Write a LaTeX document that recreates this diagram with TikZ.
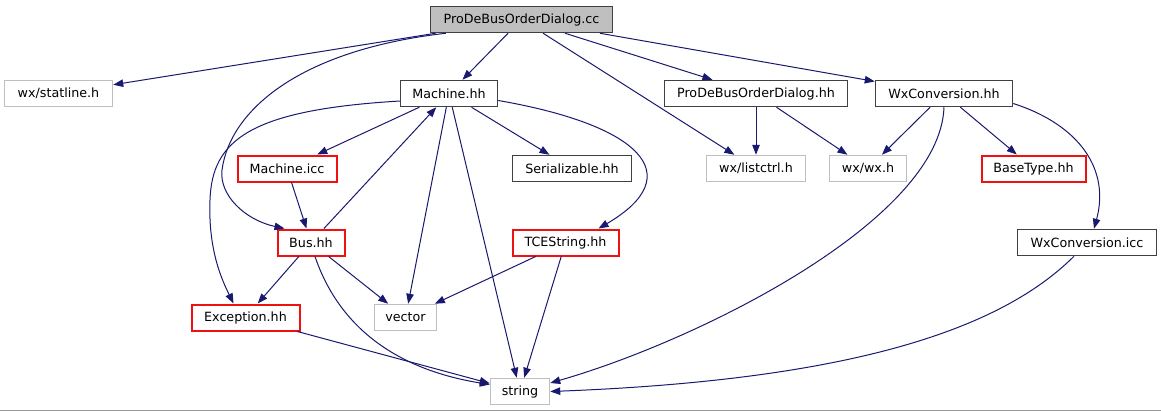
\documentclass[tikz,border=0pt]{standalone}
\usepackage{fontspec}
\setmainfont{DejaVu Sans}
\usetikzlibrary{arrows.meta,calc}
\definecolor{edgec}{HTML}{191970}
\definecolor{boxk}{HTML}{404040}
\definecolor{boxr}{HTML}{F01010}
\definecolor{boxg}{HTML}{BFBFBF}
\definecolor{rootfill}{HTML}{BFBFBF}
\tikzset{
  nodebox/.style={draw, line width=1.5bp, minimum height=26bp, inner sep=0pt,
    xshift=0.5bp, yshift=-0.5bp,
    font=\fontsize{12.7bp}{14bp}\selectfont, text=black},
  kbox/.style={nodebox, draw=boxk},
  rbox/.style={nodebox, draw=boxr, line width=2bp},
  gbox/.style={nodebox, draw=boxg},
  rootbox/.style={nodebox, draw=boxk, fill=rootfill},
  edge/.style={draw=edgec, line width=1bp, -{Triangle[length=10bp,width=7.5bp,fill=edgec]}}
}
\begin{document}
\begin{tikzpicture}[x=1bp,y=-1bp]
\useasboundingbox (0,0) rectangle (1161,411);
\fill[white] (0,0) rectangle (1161,411);
\draw[boxg!80!black, line width=1bp] (0,410.5) -- (1161,410.5);
% nodes
\node[rootbox, minimum width=182bp] (cc) at (521,19) {ProDeBusOrderDialog.cc};
\node[gbox, minimum width=108bp] (statline) at (58,93) {wx/statline.h};
\node[kbox, minimum width=97bp] (machh) at (448.5,93) {Machine.hh};
\node[kbox, minimum width=183bp] (pdbh) at (755.5,93) {ProDeBusOrderDialog.hh};
\node[kbox, minimum width=137bp] (wxch) at (943.5,93) {WxConversion.hh};
\node[rbox, minimum width=99bp] (micc) at (286.5,168) {Machine.icc};
\node[kbox, minimum width=119bp] (ser) at (571.5,168) {Serializable.hh};
\node[gbox, minimum width=99bp] (listctrl) at (755.5,168) {wx/listctrl.h};
\node[gbox, minimum width=77bp] (wxh) at (867.5,168) {wx/wx.h};
\node[rbox, minimum width=104bp] (basetype) at (1033,168) {BaseType.hh};
\node[rbox, minimum width=67bp] (bus) at (310.5,242) {Bus.hh};
\node[rbox, minimum width=106bp] (tce) at (565,242) {TCEString.hh};
\node[kbox, minimum width=139bp] (wxcicc) at (1086.5,242) {WxConversion.icc};
\node[rbox, minimum width=108bp] (exc) at (245,317) {Exception.hh};
\node[gbox, minimum width=62bp] (vec) at (405,317) {vector};
\node[gbox, minimum width=59bp] (str) at (519.5,391) {string};
% straight edges
\draw[edge] (cc) -- (statline);
\draw[edge] (cc) -- (machh);
\draw[edge] (cc) -- (listctrl);
\draw[edge] (cc) -- (pdbh);
\draw[edge] (cc) -- (wxch);
\draw[edge] (machh) -- (micc);
\draw[edge] (machh) -- (ser);
\draw[edge] (machh) -- (vec);
\draw[edge] (machh) -- (str);
\draw[edge] (micc) -- (bus);
\draw[edge] (bus) -- (machh);
\draw[edge] (bus) -- (exc);
\draw[edge] (bus) -- (vec);
\draw[edge] (exc) -- (str);
\draw[edge] (tce) -- (vec);
\draw[edge] (tce) -- (str);
\draw[edge] (pdbh) -- (listctrl);
\draw[edge] (pdbh) -- (wxh);
\draw[edge] (wxch) -- (wxh);
\draw[edge] (wxch) -- (basetype);
% curved edges
\draw[edge] ($(cc.south west)+(16,0)$) .. controls (300,50) and (230,110) .. (222,170)
  .. controls (219,195) and (245,220) .. ($(bus.north west)+(8,0)$);
\draw[edge] ($(machh.west)+(0,7.5)$) .. controls (250,110) and (212,140) .. (210,200)
  .. controls (208,250) and (222,280) .. ($(exc.north)+(-12,0)$);
\draw[edge] ($(machh.east)+(0,7)$) .. controls (640,125) and (690,175) .. ($(tce.north)+(33,0)$);
\draw[edge] (wxch.south) .. controls (940,220) and (700,340) .. ($(str.east)+(0,-8.5)$);
\draw[edge] ($(wxch.east)+(0,10)$) .. controls (1080,125) and (1110,170) .. ($(wxcicc.north)+(7,0)$);
\draw[edge] ($(wxcicc.south)+(-13,0)$) .. controls (1000,330) and (850,380) .. (str.east);
\draw[edge] ($(bus.south)+(4,0)$) .. controls (340,330) and (400,370) .. ($(str.west)+(0,-7)$);
\end{tikzpicture}
\end{document}
